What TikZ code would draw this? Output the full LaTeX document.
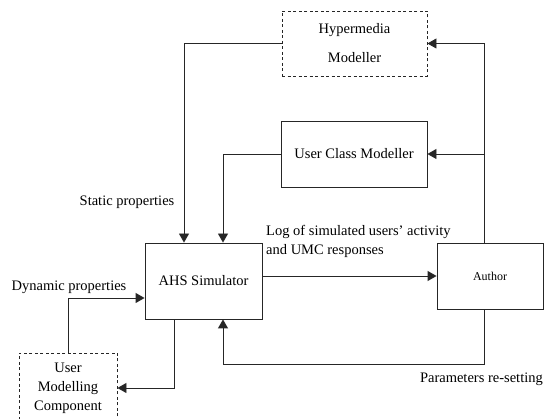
\documentclass[tikz,border=0pt]{standalone}
\usepackage{fontspec}
\setmainfont{Liberation Serif}
\usetikzlibrary{arrows.meta}
\begin{document}
\begin{tikzpicture}[x=1pt,y=-1pt,
  font=\fontsize{14.5}{19}\selectfont,
  line/.style={draw=black!85,line width=0.9pt},
  arr/.style={line,-{Triangle[length=9pt,width=10pt]}},
  block/.style={draw=black!85,line width=0.9pt,rectangle,inner sep=0pt,align=center},
  dashblock/.style={block,dashed,dash pattern=on 3pt off 2.5pt},
  lbl/.style={inner sep=0pt}]
\useasboundingbox[fill=white] (0,0) rectangle (544,419);

% modules
\node[dashblock,minimum width=145pt,minimum height=65pt] (hyp) at (354.5,43.5)
  {Hypermedia\\[10pt]Modeller};
\node[block,minimum width=146pt,minimum height=66pt] (ucm) at (354,154) {User Class Modeller};
\node[block,minimum width=117pt,minimum height=76pt] (ahs) at (203.5,281) {AHS Simulator};
\node[block,minimum width=106pt,minimum height=66pt,font=\fontsize{12}{14}\selectfont] (author) at (490,276) {Author};
\node[dashblock,minimum width=98pt,minimum height=70pt] (umc) at (68,388)
  {User\\Modelling\\Component};

% routing points
\coordinate (xs) at (184,0);
\coordinate (xu) at (223,0);
\coordinate (xa) at (484,0);
\coordinate (ybot) at (0,364);
\coordinate (xd) at (174,0);
\coordinate (yd) at (0,386);
\coordinate (yu) at (0,298);

% connectors
\draw[arr] (hyp.west) -| (xs |- ahs.north);
\draw[arr] (ucm.west) -| (xu |- ahs.north);
\draw[arr] (ahs.east |- author.west) -- (author.west);
\draw[line] (xa |- author.north) -- (xa |- hyp.east);
\draw[arr] (xa |- hyp.east) -- (hyp.east);
\draw[arr] (xa |- ucm.east) -- (ucm.east);
\draw[arr] (xa |- author.south) -- (xa |- ybot) -- (xu |- ybot) -- (xu |- ahs.south);
\draw[arr] (umc.north) |- (ahs.west |- yu);
\draw[arr] (xd |- ahs.south) |- (umc.east);

% labels
\node[lbl] (lstat) at (127,202) {Static properties};
\node[lbl] (ldyn) at (69,287) {Dynamic properties};
\node[lbl,anchor=west,align=left] (llog) at (266,241.5)
  {Log of simulated users’ activity\\and UMC responses};
\node[lbl,anchor=east] (lpar) at (543,379) {Parameters re-setting};
\end{tikzpicture}
\end{document}
